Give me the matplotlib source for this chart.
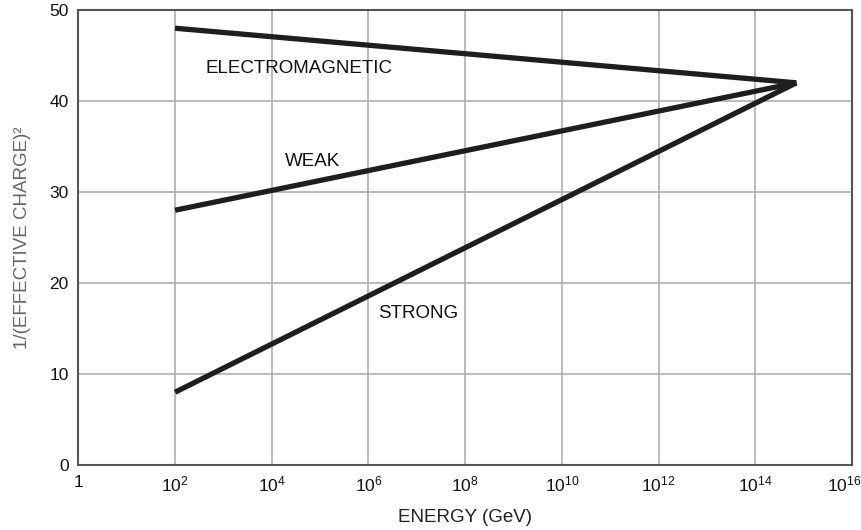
import matplotlib
matplotlib.use("Agg")
import matplotlib.pyplot as plt
import matplotlib.transforms as mtransforms

plt.rcParams["font.family"] = ["Liberation Sans", "DejaVu Sans"]
plt.rcParams["mathtext.fontset"] = "custom"
plt.rcParams["mathtext.rm"] = "Liberation Sans"

# energy as powers of ten (GeV): low-energy start and unification point
energy_exp = [2, 14.85]

electromagnetic = [48, 42.0]
weak = [28, 42.0]
strong = [8, 42.0]

tick_exps = [0, 2, 4, 6, 8, 10, 12, 14, 16]
tick_labels = ["1"] + [r"$\mathregular{10^{%d}}$" % e for e in tick_exps[1:]]
y_ticks = [0, 10, 20, 30, 40, 50]

energy = [10.0 ** e for e in energy_exp]

fig = plt.figure(figsize=(8.61, 5.30), dpi=100)
ax = fig.add_axes([0.091, 0.1226, 0.8985, 0.8585])

for vals in (electromagnetic, weak, strong):
    ax.plot(energy, vals, color="#1e1e1e", lw=3.8, solid_capstyle="butt", zorder=3)

ax.set_xscale("log")
ax.set_xlim(1, 1e16)
ax.set_ylim(0, 50)
ax.set_xticks([10.0 ** e for e in tick_exps])
ax.set_xticklabels(tick_labels)
ax.xaxis.set_minor_locator(matplotlib.ticker.NullLocator())
ax.set_yticks(y_ticks)

ax.grid(True, color="#a8a8a8", lw=1.1)
ax.set_axisbelow(True)
for s in ax.spines.values():
    s.set_color("#555555")
    s.set_linewidth(1.5)
ax.tick_params(length=0, labelsize=12.5, colors="#111111", pad=7)

# last label sits against the right edge
last = ax.get_xticklabels()[-1]
last.set_transform(last.get_transform() + mtransforms.ScaledTranslation(-0.08, 0, fig.dpi_scale_trans))

ax.text(10 ** 2.64, 43.6, "ELECTROMAGNETIC", fontsize=13.5, va="center", color="#111111")
ax.text(10 ** 4.27, 33.4, "WEAK", fontsize=13.5, va="center", color="#111111")
ax.text(10 ** 6.2, 16.7, "STRONG", fontsize=13.5, va="center", color="#111111")

ax.set_xlabel("ENERGY (GeV)", fontsize=13.5, color="#222222", labelpad=10)
ax.set_ylabel("1/(EFFECTIVE CHARGE)²", fontsize=13.5, color="#666666", labelpad=13)

fig.savefig("out.png", dpi=100, facecolor="white")
